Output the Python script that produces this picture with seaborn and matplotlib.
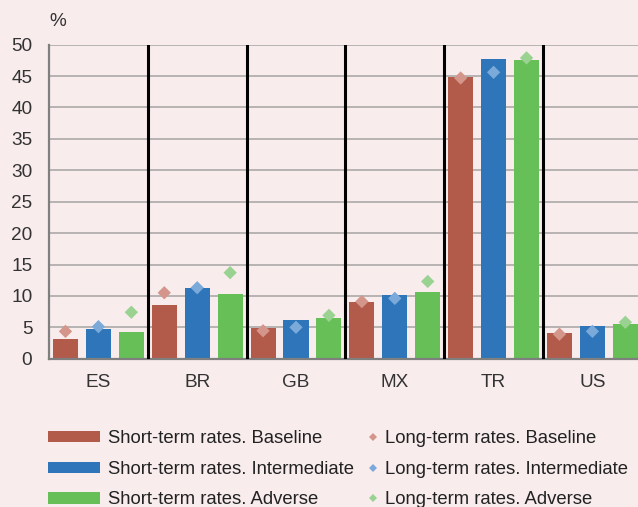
import matplotlib
matplotlib.use("Agg")
import matplotlib.pyplot as plt
import numpy as np
import pandas as pd
import seaborn as sns
from matplotlib.patches import Patch
from matplotlib.lines import Line2D

# Countries and stress scenarios
countries = ["ES", "BR", "GB", "MX", "TR", "US"]
scenarios = ["Baseline", "Intermediate", "Adverse"]

# Short-term interest rates (%) by scenario
short_baseline = [3.2, 8.6, 4.9, 9.1, 44.9, 4.1]
short_intermediate = [4.8, 11.3, 6.2, 10.1, 47.8, 5.25]
short_adverse = [4.3, 10.35, 6.5, 10.7, 47.6, 5.6]

# Long-term interest rates (%) by scenario
long_baseline = [4.35, 10.5, 4.45, 9.1, 44.7, 3.9]
long_intermediate = [5.1, 11.3, 5.0, 9.6, 45.6, 4.35]
long_adverse = [7.4, 13.7, 6.9, 12.3, 47.9, 5.8]

y_ticks = [0, 5, 10, 15, 20, 25, 30, 35, 40, 45, 50]

bar_colors = ["#B35B4B", "#2E76B9", "#67BF57"]
diamond_colors = ["#D4968B", "#7BA9DA", "#9AD292"]
bg = "#F8ECEC"
FS = 13.7
LEG_FS = 13.3

short_series = [short_baseline, short_intermediate, short_adverse]
long_series = [long_baseline, long_intermediate, long_adverse]

rows = []
for h, scen in enumerate(scenarios):
    for c, country in enumerate(countries):
        rows.append({
            "country": country,
            "scenario": scen,
            "short": short_series[h][c],
            "long": long_series[h][c],
            "xpos": c + (h - 1) / 3,
        })
df = pd.DataFrame(rows)

sns.set_theme(style="white")
plt.rcParams["font.family"] = ["Liberation Sans", "DejaVu Sans"]

fig = plt.figure(figsize=(6.38, 5.07), dpi=100, facecolor=bg)
ax = fig.add_axes([49 / 638, 148.3 / 507, 592.8 / 638, 314 / 507])
ax.set_facecolor(bg)

sns.barplot(data=df, x="country", y="short", hue="scenario", order=countries,
            hue_order=scenarios, palette=bar_colors, width=1.0, gap=0.24,
            saturation=1, errorbar=None, legend=False, linewidth=0,
            ax=ax, zorder=2)

sns.scatterplot(data=df, x="xpos", y="long", hue="scenario", hue_order=scenarios,
                palette=diamond_colors, marker="D", s=46, linewidth=0,
                legend=False, ax=ax, zorder=3)

# Separators between country groups
for i in range(1, len(countries)):
    ax.axvline(i - 0.5, color="black", lw=2.2, zorder=4)

ax.set_xlim(-0.5, len(countries) - 0.5)
ax.set_ylim(0, 50)
ax.set_yticks(y_ticks)
ax.set_xticks(range(len(countries)))
ax.set_xticklabels(countries)
ax.set_xticks([i + d for i in range(len(countries)) for d in (-1 / 6, 1 / 6)], minor=True)
ax.set_xlabel("")
ax.set_ylabel("")

ax.yaxis.grid(True, color="#B3AFAF", lw=1.3, zorder=0)
ax.set_axisbelow(True)

for s in ("top", "right"):
    ax.spines[s].set_visible(False)
for s in ("left", "bottom"):
    ax.spines[s].set_color("#7F7F7F")
    ax.spines[s].set_linewidth(1.6)

ax.tick_params(axis="y", which="major", direction="in", length=5, width=1,
               color="#8A8A8A", labelsize=FS, labelcolor="#333333", pad=12)
ax.tick_params(axis="x", which="major", length=0, labelsize=FS,
               labelcolor="#333333", pad=11)
ax.tick_params(axis="x", which="minor", direction="in", length=4, width=1,
               color="#8A8A8A")

fig.text(49 / 638, (507 - 22) / 507, "%", fontsize=FS, color="#333333",
         ha="left", va="center")

# Legend: bars on the left, diamonds on the right
legend_y = (507 - 469.3) / 507
bar_handles = [Patch(facecolor=c, edgecolor="none") for c in bar_colors]
bar_labels = [f"Short-term rates. {s}" for s in scenarios]
leg1 = fig.legend(bar_handles, bar_labels, loc="center left",
                  bbox_to_anchor=(48.5 / 638, legend_y), frameon=False,
                  fontsize=LEG_FS, handlelength=2.81, handleheight=0.58,
                  handletextpad=0.43, labelspacing=0.74, borderpad=0,
                  borderaxespad=0, labelcolor="#222222")

dia_handles = [Line2D([], [], marker="D", linestyle="none", color=c,
                      markersize=4.2, markeredgewidth=0) for c in diamond_colors]
dia_labels = [f"Long-term rates. {s}" for s in scenarios]
leg2 = fig.legend(dia_handles, dia_labels, loc="center left",
                  bbox_to_anchor=(365.9 / 638, legend_y), frameon=False,
                  fontsize=LEG_FS, handlelength=0.8, handleheight=0.58,
                  handletextpad=0.23, labelspacing=0.74, borderpad=0,
                  borderaxespad=0, labelcolor="#222222")

fig.savefig("out.png", dpi=100, facecolor=bg)
